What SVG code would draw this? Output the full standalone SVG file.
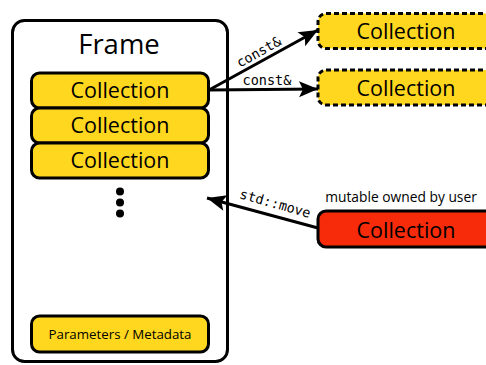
<svg xmlns="http://www.w3.org/2000/svg" width="486" height="365" viewBox="0 0 486 365">
<style>
.box{stroke:#000;stroke-width:3}
.y{fill:#ffd71f}
.r{fill:#f72b0a}
.dash{stroke-dasharray:5 3}
.t{font-family:"Open Sans","DejaVu Sans",sans-serif;fill:#000;text-anchor:middle}
.c{font-size:21.5px}
.m{font-family:"DejaVu Sans Mono","Liberation Mono",monospace;fill:#000;text-anchor:middle;font-size:13.5px}
.ln{stroke:#000;stroke-width:3;fill:none}
</style>
<defs>
<marker id="ah" markerUnits="userSpaceOnUse" markerWidth="22" markerHeight="18" viewBox="-20 -9 22 18" refX="0" refY="0" orient="auto">
<path d="M0,0 L-19,-8 L-15,0 L-19,8 Z" fill="#000"/>
</marker>
</defs>
<g id="frame">
<rect class="box" x="12.5" y="20.5" width="215" height="341" rx="12" fill="#fff"/>
<text class="t" x="119" y="54" font-size="27.5">Frame</text>
</g>
<g id="c1"><rect class="box y" x="31.5" y="73" width="177" height="35" rx="8"/><text class="t c" x="120" y="98">Collection</text></g>
<g id="c2"><rect class="box y" x="31.5" y="108" width="177" height="35" rx="8"/><text class="t c" x="120" y="133">Collection</text></g>
<g id="c3"><rect class="box y" x="31.5" y="143" width="177" height="35" rx="8"/><text class="t c" x="120" y="168">Collection</text></g>
<g id="dots" fill="#000"><circle cx="120" cy="191.5" r="4"/><circle cx="120" cy="202.5" r="4"/><circle cx="120" cy="213.5" r="4"/></g>
<g id="params"><rect class="box y" x="31.5" y="316" width="177" height="36" rx="8"/><text class="t" x="120" y="339" font-size="13.3">Parameters / Metadata</text></g>
<g id="ref1"><rect class="box y dash" x="318" y="13.5" width="180" height="35" rx="8"/><text class="t c" x="406" y="38.5">Collection</text></g>
<g id="ref2"><rect class="box y dash" x="318" y="70" width="180" height="35" rx="8"/><text class="t c" x="406" y="95.5">Collection</text></g>
<g id="owned"><rect class="box r" x="318" y="211" width="180" height="36" rx="8"/><text class="t c" x="406" y="237.5">Collection</text>
<text class="t" x="401" y="202" font-size="13.8">mutable owned by user</text></g>
<g id="connectors">
<line class="ln" x1="209" y1="90" x2="318" y2="30" marker-end="url(#ah)"/>
<line class="ln" x1="209" y1="90" x2="318" y2="89" marker-end="url(#ah)"/>
<line class="ln" x1="318" y1="228" x2="207" y2="198" marker-end="url(#ah)"/>
<text class="m" transform="translate(261,56) rotate(-29)">const&amp;</text>
<text class="m" x="267" y="85">const&amp;</text>
<text class="m" transform="translate(274,208) rotate(16)">std::move</text>
</g>
</svg>
